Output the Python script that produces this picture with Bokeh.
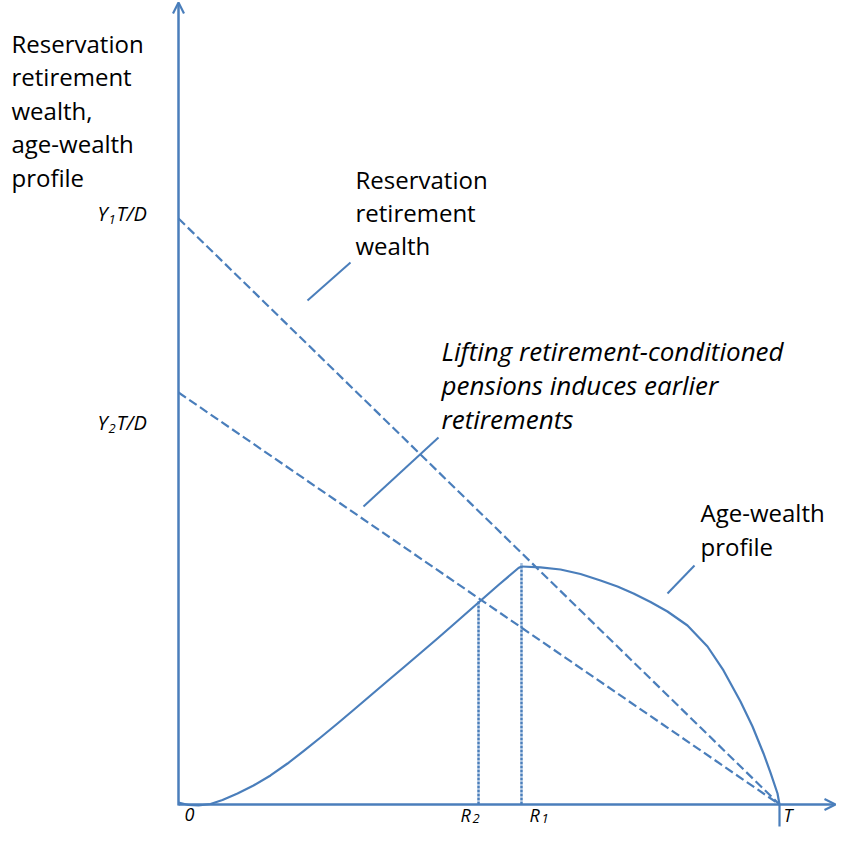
from bokeh.plotting import figure
from bokeh.models import Range1d, Arrow, OpenHead
from bokeh.embed import file_html
from bokeh.resources import INLINE
from bokeh.core.properties import value

# ---------------- data (units: horizon T = 100) ----------------
T = 100.0
R1 = 57.07
R2 = 49.92
Y1TD = 97.5     # Y1 T / D
Y2TD = 68.55    # Y2 T / D
R1_TOP = 40.1
R2_TOP = 33.8

# age-wealth profile: rising part up to R1
rise_age = [0.0, 1.66, 3.33, 5.32, 7.32, 9.82, 12.48, 15.31, 18.14, 20.80, 23.63,
            26.46, 29.12, 31.95, 34.78, 37.44, 40.27, 43.09, 46.42, 49.92, 53.24,
            56.57, 57.07]
rise_wealth = [0.33, -0.08, -0.17, 0.08, 0.75, 1.83, 3.16, 4.83, 6.82, 8.90, 11.15,
               13.48, 15.72, 18.14, 20.55, 22.80, 25.21, 27.62, 30.53, 33.61, 36.52,
               39.35, 39.60]
# falling arc from R1 to T
fall_age = [57.07, 60.23, 63.56, 66.89, 70.22, 73.04, 75.71, 78.54, 81.36, 84.69,
            88.02, 90.68, 93.51, 95.51, 97.34, 98.50, 99.67, 100.0, 100.0]
fall_wealth = [39.60, 39.47, 39.10, 38.35, 37.27, 36.27, 35.11, 33.69, 32.11, 29.78,
               26.29, 22.30, 17.14, 12.98, 8.49, 5.32, 1.83, 0.0, -3.66]

ytitle_lines = ["Reservation", "retirement", "wealth,", "age-wealth", "profile"]
rrw_lines = ["Reservation", "retirement", "wealth"]
lift_lines = ["Lifting retirement-conditioned", "pensions induces earlier", "retirements"]
awp_lines = ["Age-wealth", "profile"]

# ---------------- layout ----------------
W, H = 837, 827
S = 6.01            # pixels per data unit
OX, OY = 178, 811   # reference pixel of the origin
TOP_REF = 7         # reference pixel row shown at the top of the figure
C = "#4a7ebb"
FONT = value("Open Sans")
BLACK = "#000000"


def dx(px):
    return (px - OX) / S


def dy(py):
    return (OY - py) / S


def ty(base_px, size_px):
    # baseline placement correction for the text glyph
    return dy(base_px - 0.38 * size_px)


p = figure(width=W, height=H, output_backend="svg", toolbar_location=None,
           x_axis_type=None, y_axis_type=None, min_border=0,
           x_range=Range1d(dx(0), dx(W)),
           y_range=Range1d(dy(TOP_REF + H), dy(TOP_REF)))
p.outline_line_color = None
p.background_fill_color = "white"
p.border_fill_color = "white"

# axes with arrow heads
p.add_layout(Arrow(end=OpenHead(size=11, line_color=C, line_width=2.2),
                   x_start=0, y_start=dy(812), x_end=0, y_end=dy(9),
                   line_color=C, line_width=2.5))
p.add_layout(Arrow(end=OpenHead(size=11, line_color=C, line_width=2.2),
                   x_start=0, y_start=0, x_end=dx(835), y_end=0,
                   line_color=C, line_width=2.5))

# reservation retirement wealth lines
p.line([0, T], [Y1TD, 0], line_color=C, line_width=2.2, line_dash="9 4")
p.line([0, T], [Y2TD, 0], line_color=C, line_width=2.2, line_dash="9 4")

# retirement ages
p.segment(x0=[R2, R1], y0=[0, 0], x1=[R2, R1], y1=[R2_TOP, R1_TOP],
          line_color=C, line_width=2.5, line_dash="3 1")

# age-wealth profile
p.line(rise_age, rise_wealth, line_color=C, line_width=2.2, line_join="round")
p.line(fall_age, fall_wealth, line_color=C, line_width=2.2, line_join="round")

# leader lines for the annotations
p.segment(x0=[dx(307), dx(363), dx(667)], y0=[dy(307), dy(513), dy(600)],
          x1=[dx(350), dx(438), dx(694)], y1=[dy(269), dy(444), dy(572)],
          line_color=C, line_width=2)


def block(lines, left_px, first_base_px, spacing, size=24, italic=False):
    p.text(x=[dx(left_px)] * len(lines),
           y=[ty(first_base_px + i * spacing, size) for i in range(len(lines))],
           text=lines, text_font=FONT, text_font_size=f"{size}px",
           text_font_style="italic" if italic else "normal",
           text_baseline="alphabetic", text_align="left", text_color=BLACK)


block(ytitle_lines, 11, 59, 33.5)
block(rrw_lines, 355, 195, 33)
block(lift_lines, 441, 367, 34, size=26, italic=True)
block(awp_lines, 700, 528, 34)


def label(x_px, base_px, main, sub=None, sub_dx=0, rest=None, rest_dx=0,
          size=20, sub_drop=3):
    p.text(x=[dx(x_px)], y=[ty(base_px, size)], text=[main], text_font=FONT,
           text_font_size=f"{size}px", text_font_style="italic",
           text_baseline="alphabetic", text_align="left", text_color=BLACK)
    if sub is not None:
        p.text(x=[dx(x_px + sub_dx)], y=[ty(base_px + sub_drop, 13)], text=[sub],
               text_font=FONT, text_font_size="13px", text_font_style="italic",
               text_baseline="alphabetic", text_align="left", text_color=BLACK)
    if rest is not None:
        p.text(x=[dx(x_px + rest_dx)], y=[ty(base_px, size)], text=[rest], text_font=FONT,
               text_font_size=f"{size}px", text_font_style="italic",
               text_baseline="alphabetic", text_align="left", text_color=BLACK)


# y tick labels
label(97, 228, "Y", "1", 11, "T/D", 19)
label(97, 437, "Y", "2", 11, "T/D", 19)
# x tick labels
label(184, 828, "0", size=18)
label(460, 828, "R", "2", 12, size=18, sub_drop=2)
label(529, 828, "R", "1", 12, size=18, sub_drop=2)
label(783, 828, "T", size=18)

open("out.html", "w").write(file_html(p, INLINE))
